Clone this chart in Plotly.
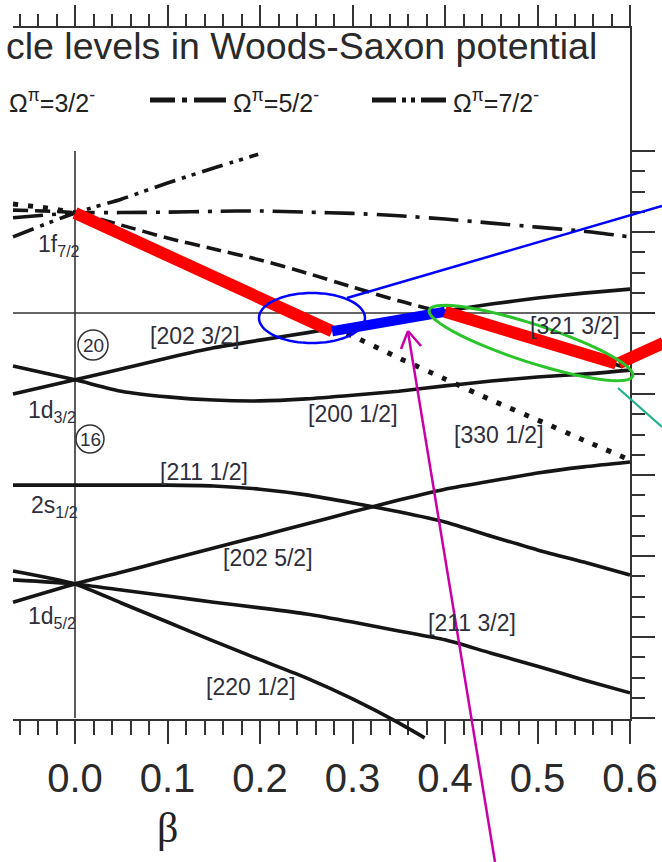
import math
import plotly.graph_objects as go

W, H = 662, 862

# ---------------- data (beta, single-particle energy in MeV) ----------------
beta = [-0.067, 0.0, 0.05, 0.10, 0.15, 0.20, 0.25, 0.30, 0.35, 0.40, 0.45, 0.50, 0.55, 0.60]

# 1f7/2 orbitals (negative parity)
e_330_12 = [-1.31, -1.53, -2.05, -2.59, -3.14, -3.65, -4.12, -4.57, -5.11, -5.63, -6.15, -6.64, -7.14, -7.63]
e_321_32 = [-1.46, -1.53, -1.83, -2.15, -2.42, -2.69, -3.01, -3.36, -3.70, -4.00, -4.35, -4.69, -5.04, -5.38]
e_312_52 = [-1.65, -1.53, -1.52, -1.51, -1.49, -1.48, -1.51, -1.54, -1.60, -1.68, -1.78, -1.88, -1.98, -2.12]
beta_303_72 = [-0.067, 0.0, 0.05, 0.10, 0.15, 0.198]
e_303_72 = [-2.12, -1.53, -1.19, -0.79, -0.42, -0.08]

# sd-shell orbitals (positive parity)
e_202_32 = [-6.00, -5.65, -5.38, -5.11, -4.86, -4.67, -4.49, -4.30, -4.12, -3.95, -3.78, -3.63, -3.51, -3.41]
e_200_12 = [-5.31, -5.65, -5.93, -6.07, -6.15, -6.17, -6.12, -6.03, -5.93, -5.80, -5.68, -5.58, -5.51, -5.41]
e_211_12 = [-8.25, -8.25, -8.25, -8.25, -8.27, -8.35, -8.49, -8.69, -8.91, -9.16, -9.51, -9.85, -10.15, -10.47]
e_202_52 = [-11.14, -10.69, -10.40, -10.10, -9.80, -9.51, -9.21, -8.91, -8.62, -8.35, -8.15, -7.95, -7.80, -7.68]
e_211_32 = [-10.59, -10.69, -10.84, -10.99, -11.14, -11.28, -11.43, -11.63, -11.85, -12.07, -12.40, -12.72, -13.06, -13.38]
beta_220 = [-0.067, 0.0, 0.05, 0.10, 0.15, 0.20, 0.25, 0.30, 0.35, 0.378]
e_220_12 = [-10.37, -10.69, -11.16, -11.63, -12.10, -12.56, -13.01, -13.53, -14.12, -14.49]

# highlighted path
hl_red1_beta = [0.0, 0.278]
hl_red1_e = [-1.53, -4.45]
hl_blue_beta = [0.278, 0.40]
hl_blue_e = [-4.45, -3.97]
hl_red2_beta = [0.40, 0.585]
hl_red2_e = [-3.97, -5.25]
hl_red3_beta = [0.588, 0.636]
hl_red3_e = [-5.24, -4.74]

fermi_e = -4.0

# ticks
x_major = [0.0, 0.1, 0.2, 0.3, 0.4, 0.5, 0.6]
x_labels = ["0.0", "0.1", "0.2", "0.3", "0.4", "0.5", "0.6"]
x_minor = [-0.06, -0.04, -0.02, 0.02, 0.04, 0.06, 0.08, 0.12, 0.14, 0.16, 0.18,
           0.22, 0.24, 0.26, 0.28, 0.32, 0.34, 0.36, 0.38, 0.42, 0.44, 0.46, 0.48,
           0.52, 0.54, 0.56, 0.58]
e_major = [-14, -12, -10, -8, -6, -4, -2, 0]
e_minor = [-13.5, -13, -12.5, -11.5, -11, -10.5, -9.5, -9, -8.5, -7.5, -7, -6.5,
           -5.5, -5, -4.5, -3.5, -3, -2.5, -1.5, -1, -0.5]

level_labels = ["[202 3/2]", "[200 1/2]", "[330 1/2]", "[321 3/2]",
                "[211 1/2]", "[202 5/2]", "[211 3/2]", "[220 1/2]"]

# ---------------- geometry helpers (pixel <-> axis mapping) ----------------
PX0, PXB = 75.0, 925.0      # pixel of beta=0, pixels per unit beta
PY0, PYE = 718.0, 40.5      # pixel of E=-14, pixels per MeV


def b_of(px):
    return (px - PX0) / PXB


def e_of(py):
    return -14 + (PY0 - py) / PYE


def P(px, py):
    return px / W, 1 - py / H


INK = "#151515"
AX = "#333333"
TXT = "#2e2e3c"
FONT = "Liberation Sans, Arial, Helvetica, sans-serif"

fig = go.Figure()


def curve(x, y, dash="solid", width=3.6):
    fig.add_trace(go.Scatter(
        x=x, y=y, mode="lines", hoverinfo="skip", showlegend=False,
        xaxis="x3", yaxis="y3",
        line=dict(color=INK, width=width, dash=dash, shape="spline", smoothing=0.6)))


# solid sd-shell curves
curve(beta, e_202_32)
curve(beta, e_200_12)
curve(beta, e_211_12)
curve(beta, e_202_52)
curve(beta, e_211_32)
curve(beta_220, e_220_12)
# f7/2 curves
curve(beta, e_312_52, dash="30px,9px,4px,9px")
curve(beta_303_72, e_303_72, dash="22px,7px,4px,6px,4px,7px")
curve(beta, e_321_32, dash="15px,7px")
curve(beta, e_330_12, dash="5px,10px", width=5)

# highlighted path
for xb, ye, col, w in [(hl_red1_beta, hl_red1_e, "#ff0000", 12),
                       (hl_blue_beta, hl_blue_e, "#0000ff", 10),
                       (hl_red2_beta, hl_red2_e, "#ff0000", 12),
                       (hl_red3_beta, hl_red3_e, "#ff0000", 12)]:
    fig.add_trace(go.Scatter(x=xb, y=ye, mode="lines", hoverinfo="skip", showlegend=False,
                             xaxis="x3", yaxis="y3", line=dict(color=col, width=w)))

# dummy traces so that the frame axes get drawn
fig.add_trace(go.Scatter(x=[None], y=[None], xaxis="x", yaxis="y", showlegend=False,
                         hoverinfo="skip"))
fig.add_trace(go.Scatter(x=[None], y=[None], xaxis="x2", yaxis="y", showlegend=False,
                         hoverinfo="skip"))

shapes = []
# beta = 0 vertical line and Fermi-level horizontal line
shapes.append(dict(type="line", xref="x3", yref="y3", x0=0, x1=0, y0=0, y1=-14,
                   line=dict(color=AX, width=1.6), layer="below"))
shapes.append(dict(type="line", xref="x3", yref="y3", x0=b_of(13), x1=0.6, y0=fermi_e, y1=fermi_e,
                   line=dict(color=AX, width=1.6), layer="below"))


def ellipse_path(cx, cy, a, b, ang_deg, n=72):
    t = math.radians(ang_deg)
    pts = []
    for i in range(n + 1):
        u = 2 * math.pi * i / n
        x = cx + a * math.cos(u) * math.cos(t) - b * math.sin(u) * math.sin(t)
        y = cy + a * math.cos(u) * math.sin(t) + b * math.sin(u) * math.cos(t)
        px_, py_ = P(x, y)
        pts.append(f"{px_:.5f},{py_:.5f}")
    return "M" + " L".join(pts) + " Z"


# blue ellipse
shapes.append(dict(type="path", xref="paper", yref="paper",
                   path=ellipse_path(312, 318, 53, 25, 0), line=dict(color="#0000ff", width=2.5)))
# green ellipse
shapes.append(dict(type="path", xref="paper", yref="paper",
                   path=ellipse_path(531, 343, 107, 19, 18), line=dict(color="#2cc42c", width=3)))


def seg(p1, p2, color, width, dash="solid"):
    x0, y0 = P(*p1)
    x1, y1 = P(*p2)
    shapes.append(dict(type="line", xref="paper", yref="paper", x0=x0, y0=y0, x1=x1, y1=y1,
                       line=dict(color=color, width=width, dash=dash)))


# thin blue pointer
seg((347, 298), (662, 206), "#0000ff", 2.5)
# teal pointer
seg((618, 388), (662, 427), "#1fb08c", 2.2)
# magenta arrow
seg((495, 862), (408, 332), "#c800a8", 2.5)
seg((401, 349), (408, 331), "#c800a8", 2.5)
seg((408, 331), (421, 346), "#c800a8", 2.5)
# legend samples
seg((150, 100), (226, 100), INK, 5, "25px,7px,5px,7px,40px")
seg((372, 100), (446, 100), INK, 5, "24px,6px,4px,5px,4px,6px,40px")

# circles around magic numbers
for (cx, cy, r) in [(93, 345, 15), (90, 439, 14)]:
    x0, y0 = P(cx - r, cy + r)
    x1, y1 = P(cx + r, cy - r)
    shapes.append(dict(type="circle", xref="paper", yref="paper", x0=x0, y0=y0, x1=x1, y1=y1,
                       line=dict(color=AX, width=1.5)))

ann = []


def text(s, px, py, size, xanchor="center", color=TXT, family=FONT):
    x, y = P(px, py)
    ann.append(dict(text=s, x=x, y=y, xref="paper", yref="paper", showarrow=False,
                    xanchor=xanchor, yanchor="middle",
                    font=dict(size=size, color=color, family=family)))


text("cle levels in Woods-Saxon potential", 4, 46, 37.5, xanchor="left", color="#2a2a2a")
text("Ω<sup>π</sup>=3/2<sup>-</sup>", 7, 101, 25, xanchor="left", color="#222")
text("Ω<sup>π</sup>=5/2<sup>-</sup>", 231, 101, 25, xanchor="left", color="#222")
text("Ω<sup>π</sup>=7/2<sup>-</sup>", 451, 101, 25, xanchor="left", color="#222")

label_pos = [(195, 336), (353, 414), (499, 435), (575, 326),
             (204, 472), (268, 558), (472, 623), (251, 687)]
for s, (px_, py_) in zip(level_labels, label_pos):
    text(s, px_, py_, 23)

text("1f<sub>7/2</sub>", 36, 245, 23, xanchor="left")
text("1d<sub>3/2</sub>", 26, 411, 23, xanchor="left")
text("2s<sub>1/2</sub>", 29, 506, 23, xanchor="left")
text("1d<sub>5/2</sub>", 26, 617, 23, xanchor="left")
text("20", 93, 345, 19)
text("16", 90, 439, 19)
text("β", 167, 828, 42, color="#222", family="Liberation Serif, DejaVu Serif, serif")

tick_common = dict(showgrid=False, zeroline=False, showline=True, linecolor=AX, linewidth=1.6,
                   ticks="outside", tickwidth=1.6, tickcolor=AX, automargin=False)

fig.update_layout(
    width=W, height=H, autosize=False,
    margin=dict(l=0, r=0, t=0, b=0, pad=0, autoexpand=False),
    paper_bgcolor="white", plot_bgcolor="rgba(0,0,0,0)",
    showlegend=False,
    shapes=shapes, annotations=ann,
    xaxis=dict(domain=[13 / W, 630 / W], range=[b_of(13), 0.6], anchor="y", side="bottom",
               tickmode="array", tickvals=x_major, ticktext=x_labels, ticklen=23,
               tickfont=dict(size=40, color="#2a2a2a", family=FONT),
               minor=dict(tickmode="array", tickvals=x_minor, ticks="outside",
                          ticklen=14, tickwidth=1.6, tickcolor=AX, showgrid=False),
               **tick_common),
    xaxis2=dict(overlaying="x", range=[b_of(13), 0.6], anchor="y", side="top",
                showticklabels=False,
                tickmode="array", tickvals=x_major, ticklen=21,
                minor=dict(tickmode="array", tickvals=x_minor, ticks="outside",
                           ticklen=12, tickwidth=1.6, tickcolor=AX, showgrid=False),
                **tick_common),
    yaxis=dict(domain=[1 - 719 / H, 1 - 28 / H], range=[e_of(719), e_of(28)],
               anchor="x", side="right", showticklabels=False,
               tickmode="array", tickvals=e_major, ticklen=23,
               minor=dict(tickmode="array", tickvals=e_minor, ticks="outside",
                          ticklen=13, tickwidth=1.6, tickcolor=AX, showgrid=False),
               **tick_common),
    xaxis3=dict(domain=[0, 1], range=[b_of(0), b_of(W)], anchor="y3", visible=False,
                fixedrange=True, automargin=False),
    yaxis3=dict(domain=[0, 1], range=[e_of(H), e_of(0)], anchor="x3", visible=False,
                fixedrange=True, automargin=False),
)

fig.write_html("out.html", config={"displayModeBar": False},
               post_script="document.body.style.margin='0px';")
